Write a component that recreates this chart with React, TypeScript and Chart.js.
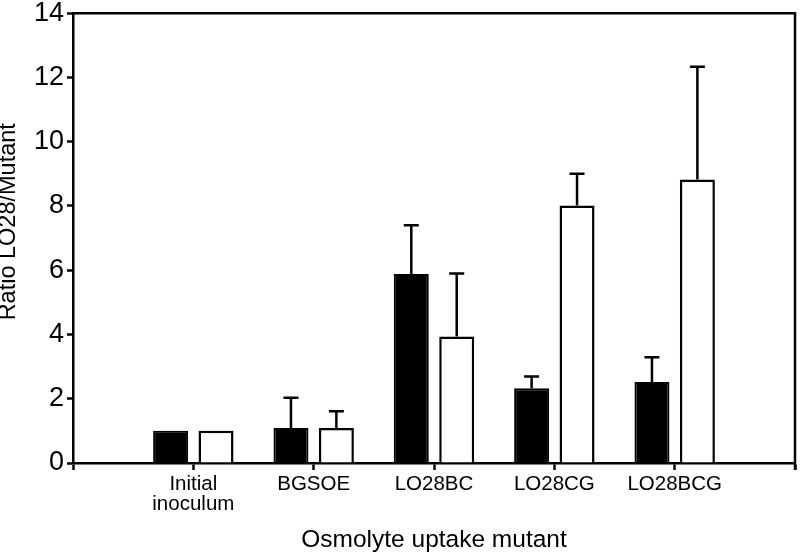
import React, { useEffect, useRef } from "react";
import { Chart, registerables } from "chart.js";

Chart.register(...registerables);

const categories: (string | string[])[] = ["", ["Initial", "inoculum"], "BGSOE", "LO28BC", "LO28CG", "LO28BCG", ""];
const blackValues: (number | null)[] = [null, 1.0, 1.09, 5.88, 2.33, 2.52, null];
const blackErrors: (number | null)[] = [null, 0, 0.94, 1.52, 0.36, 0.77, null];
const whiteValues: (number | null)[] = [null, 1.0, 1.09, 3.94, 8.01, 8.82, null];
const whiteErrors: (number | null)[] = [null, 0, 0.52, 1.96, 0.99, 3.51, null];
const yTicks = [0, 2, 4, 6, 8, 10, 12, 14];

const FONT = "'Liberation Sans', Arial, Helvetica, sans-serif";

const errorBarPlugin = {
  id: "errorBars",
  afterDatasetsDraw(chart: any) {
    const ctx = chart.ctx;
    const yScale = chart.scales.y;
    chart.data.datasets.forEach((ds: any, di: number) => {
      const meta = chart.getDatasetMeta(di);
      const errs: (number | null)[] = ds.errors || [];
      meta.data.forEach((el: any, i: number) => {
        const v = ds.data[i];
        const e = errs[i];
        if (v == null || !e) return;
        const yBase = yScale.getPixelForValue(v);
        const yTop = yScale.getPixelForValue(v + e);
        ctx.save();
        ctx.strokeStyle = "#000";
        ctx.lineWidth = 2.5;
        ctx.beginPath();
        ctx.moveTo(el.x, yBase);
        ctx.lineTo(el.x, yTop);
        ctx.moveTo(el.x - 7.5, yTop);
        ctx.lineTo(el.x + 7.5, yTop);
        ctx.stroke();
        ctx.restore();
      });
    });
  },
};

const framePlugin = {
  id: "frame",
  afterDraw(chart: any) {
    const { ctx, chartArea } = chart;
    ctx.save();
    ctx.strokeStyle = "#000";
    ctx.lineWidth = 2.5;
    ctx.beginPath();
    ctx.moveTo(chartArea.left, chartArea.top);
    ctx.lineTo(chartArea.right, chartArea.top);
    ctx.lineTo(chartArea.right, chartArea.bottom + 7);
    ctx.stroke();
    ctx.restore();
  },
};

export default function App() {
  const ref = useRef<HTMLCanvasElement>(null);
  useEffect(() => {
    document.body.style.margin = "0";
    const chart = new Chart(ref.current!, {
      type: "bar",
      data: {
        labels: categories,
        datasets: [
          {
            data: blackValues,
            errors: blackErrors,
            backgroundColor: "#000",
            borderColor: "#000",
            borderWidth: 2,
            categoryPercentage: 0.755,
            barPercentage: 0.77,
          } as any,
          {
            data: whiteValues,
            errors: whiteErrors,
            backgroundColor: "#fff",
            borderColor: "#000",
            borderWidth: 2.5,
            categoryPercentage: 0.755,
            barPercentage: 0.77,
          } as any,
        ],
      },
      options: {
        animation: false,
        responsive: false,
        maintainAspectRatio: false,
        layout: { padding: { left: 0, right: 4, top: 11, bottom: 0 } },
        plugins: { legend: { display: false }, tooltip: { enabled: false } },
        scales: {
          x: {
            type: "category",
            offset: false,
            grid: {
              offset: false,
              drawOnChartArea: false,
              drawTicks: true,
              tickLength: 7,
              tickWidth: 2.5,
              tickColor: "#000",
            },
            border: { display: true, color: "#000", width: 2.5 },
            ticks: {
              color: "#000",
              font: { family: FONT, size: 20.5, lineHeight: 0.95 },
              maxRotation: 0,
              autoSkip: false,
              padding: 5,
            },
            title: {
              display: true,
              text: "Osmolyte uptake mutant",
              color: "#000",
              font: { family: FONT, size: 24.5, lineHeight: 1 },
              padding: { top: 0, bottom: 2 },
            },
            afterFit: (scale: any) => {
              scale.height = 91;
            },
          },
          y: {
            min: 0,
            max: 14,
            afterBuildTicks: (scale: any) => {
              scale.ticks = yTicks.map((v) => ({ value: v }));
            },
            grid: {
              drawOnChartArea: false,
              drawTicks: true,
              tickLength: 6,
              tickWidth: 2.5,
              tickColor: "#000",
            },
            border: { display: true, color: "#000", width: 2.5 },
            ticks: {
              color: "#000",
              font: { family: FONT, size: 27, lineHeight: 0.75 },
              padding: 3,
            },
            title: {
              display: true,
              text: "     Ratio LO28/Mutant",
              color: "#000",
              font: { family: FONT, size: 23.5, lineHeight: 1 },
              padding: { top: -3, bottom: 0 },
            },
            afterFit: (scale: any) => {
              scale.width = 73;
            },
          },
        },
      },
      plugins: [errorBarPlugin, framePlugin],
    } as any);
    return () => chart.destroy();
  }, []);
  return (
    <div style={{ position: "absolute", left: 0, top: 0, width: 800, height: 554, background: "#fff" }}>
      <canvas ref={ref} width={800} height={554} />
    </div>
  );
}
